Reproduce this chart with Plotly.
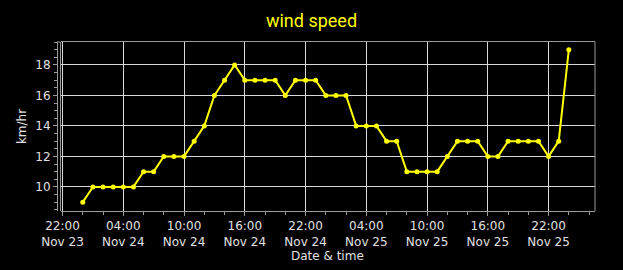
import pandas as pd
import plotly.graph_objects as go

start = "2023-11-24 00:00"
wind_kmh = [9, 10, 10, 10, 10, 10, 11, 11, 12, 12, 12, 13, 14, 16, 17, 18, 17, 17, 17, 17,
            16, 17, 17, 17, 16, 16, 16, 14, 14, 14, 13, 13, 11, 11, 11, 11, 12, 13, 13, 13,
            12, 12, 13, 13, 13, 13, 12, 13, 19]
times = pd.date_range(start, periods=len(wind_kmh), freq="h")

title_text = "wind speed"
x_title = "Date & time"
y_title = "km/hr"

W, H = 623, 270
ml, mr, mt, mb = 57, 28, 42, 59
pw = W - ml - mr
ph = H - mt - mb
dstart = 3.5 / pw

grid = "#d8d8d8"
frame = "#9a9a9a"
text = "#e0e0e0"

fig = go.Figure()
fig.add_trace(go.Scatter(
    x=times, y=wind_kmh, mode="lines+markers",
    line=dict(color="#ffff00", width=2),
    marker=dict(color="#ffff00", size=5),
    showlegend=False,
))

fig.update_layout(
    width=W, height=H,
    paper_bgcolor="black", plot_bgcolor="black",
    margin=dict(l=ml, r=mr, t=mt, b=mb, autoexpand=False),
    title=dict(text=title_text, x=0.5, xanchor="center", y=0.925, yanchor="middle",
               font=dict(family="Roboto", size=18, color="#ffff00")),
    font=dict(family="DejaVu Sans", size=12, color=text),
    xaxis=dict(
        domain=[dstart, 1],
        type="date",
        automargin=False,
        range=["2023-11-23 21:48", "2023-11-26 02:35"],
        tick0="2023-11-23 22:00", dtick=6 * 3600 * 1000,
        tickformat="%H:%M<br>%b %d",
        showgrid=True, gridcolor=grid, gridwidth=1,
        showline=True, linecolor=frame, linewidth=1, mirror=True,
        ticks="outside", ticklen=4, tickcolor=frame,
        ticklabelstandoff=0,
        minor=dict(dtick=2 * 3600 * 1000, tick0="2023-11-23 22:00", ticks="outside",
                   ticklen=3, tickcolor=frame, showgrid=False),
        tickfont=dict(size=12, color=text),
        zeroline=False,
    ),
    yaxis=dict(
        anchor="free", position=0,
        automargin=False,
        range=[8.42, 19.5],
        tick0=10, dtick=2,
        showgrid=True, gridcolor=grid, gridwidth=1,
        showline=True, linecolor=frame, linewidth=1,
        ticks="outside", ticklen=4, tickcolor=frame,
        minor=dict(dtick=0.5, ticks="outside", ticklen=3, tickcolor=frame, showgrid=False),
        title=dict(text=y_title, font=dict(size=12, color=text), standoff=5),
        tickfont=dict(size=12, color=text),
        zeroline=False,
    ),
)

fig.add_annotation(text=x_title, xref="x domain", yref="paper", x=0.5, y=-45 / ph,
                   xanchor="center", yanchor="middle", showarrow=False,
                   font=dict(size=12, color=text, family="DejaVu Sans"))

for xv in (0, 1):
    fig.add_shape(type="line", xref="x domain", yref="paper", x0=xv, x1=xv, y0=0, y1=1,
                  line=dict(color=frame, width=1), layer="above")
fig.add_shape(type="line", xref="paper", yref="paper", x0=0, x1=dstart, y0=1, y1=1,
              line=dict(color=frame, width=1), layer="above")

fig.write_html("out.html")
